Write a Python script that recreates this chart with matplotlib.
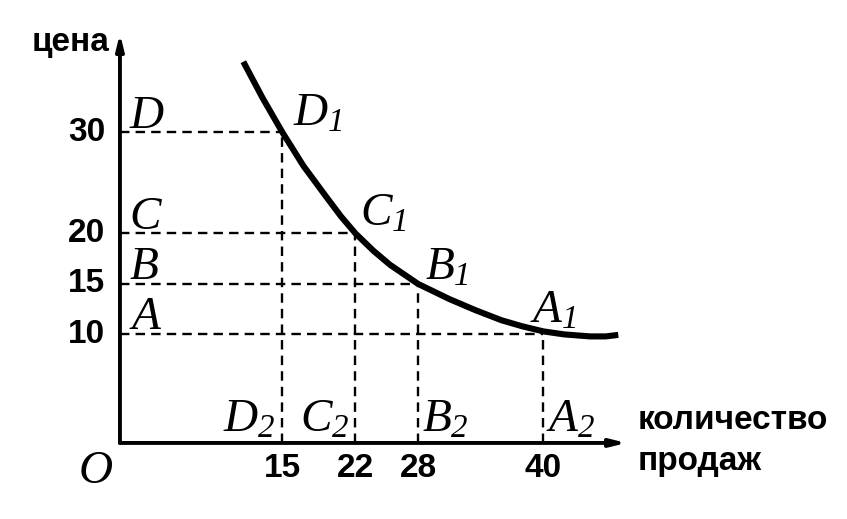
import matplotlib
matplotlib.use("Agg")
import matplotlib.pyplot as plt

# data
curve_x = [11.25, 13.1, 15, 17.0, 19.0, 20.6, 22, 23.7, 25.3, 28, 31.0, 33.5,
           36.0, 38.0, 40, 42.0, 44.5, 46.0, 47.2]
curve_y = [37.0, 33.4, 30, 26.7, 23.9, 21.7, 20, 18.3, 16.9, 15, 13.5, 12.4,
           11.4, 10.8, 10.3, 10.0, 9.8, 9.8, 9.95]

qty = [15, 22, 28, 40]          # D, C, B, A
price = [30, 20, 15, 10]
letters = ["D", "C", "B", "A"]

# label spots (data units)
axis_lbl_y = [30.4, 20.4, 15.5, 10.5]
curve_lbl = [(16.0, 30.7), (22.4, 20.8), (28.7, 15.4), (38.7, 11.2)]
bottom_lbl_x = [9.3, 16.7, 28.4, 40.3]

plt.rcParams["mathtext.fontset"] = "custom"
plt.rcParams["mathtext.it"] = "Liberation Serif:italic"
plt.rcParams["mathtext.rm"] = "Liberation Serif:italic"

fig = plt.figure(figsize=(8.47, 5.19), dpi=100)
ax = fig.add_axes([0, 0, 1, 1])
ax.set_xlim(-12.08, 69.13)
ax.set_ylim(-8.28, 43.11)
ax.axis("off")

x0, y0 = -0.58, -0.75  # where the drawn axes cross

# axes with arrows
arrow = dict(arrowstyle="-|>,head_length=0.9,head_width=0.22", lw=2.8,
             color="black", shrinkA=0, shrinkB=0)
ax.annotate("", xy=(x0, 39.8), xytext=(x0, y0), arrowprops=arrow)
ax.annotate("", xy=(48.0, y0), xytext=(x0, y0), arrowprops=arrow)

# dashed guide lines
dash = dict(color="black", lw=1.7, linestyle=(0, (4, 2.6)))
for q, p in zip(qty, price):
    ax.plot([x0, q], [p, p], **dash)
    ax.plot([q, q], [y0, p], **dash)

# demand curve
ax.plot(curve_x, curve_y, color="black", lw=4.4, solid_capstyle="butt",
        solid_joinstyle="round")

# tick labels
tick_font = dict(family=["Liberation Sans", "DejaVu Sans"], fontsize=24,
                 fontweight="bold", color="black")
for p in price:
    ax.text(-2.0, p, str(p), ha="right", va="center", **tick_font)
for q in qty:
    ax.text(q, -3.3, str(q), ha="center", va="center", **tick_font)

ax.text(-5.3, 38.9, "цена", ha="center", va="center", **tick_font)
ax.text(49.1, 1.5, "количество", ha="left", va="center", **tick_font)
ax.text(49.1, -2.6, "продаж", ha="left", va="center", **tick_font)

# letters
for L, yl in zip(letters, axis_lbl_y):
    ax.text(0.3, yl, "$" + L + "$", fontsize=34, ha="left", va="baseline")
for L, (xl, yl) in zip(letters, curve_lbl):
    ax.text(xl, yl, "$" + L + "_1$", fontsize=34, ha="left", va="baseline")
for L, xl in zip(letters, bottom_lbl_x):
    ax.text(xl, 0.35, "$" + L + "_2$", fontsize=34, ha="left", va="baseline")
ax.text(-4.6, -4.7, "$O$", fontsize=34, ha="left", va="baseline")

fig.savefig("out.png", dpi=100, facecolor="white")
